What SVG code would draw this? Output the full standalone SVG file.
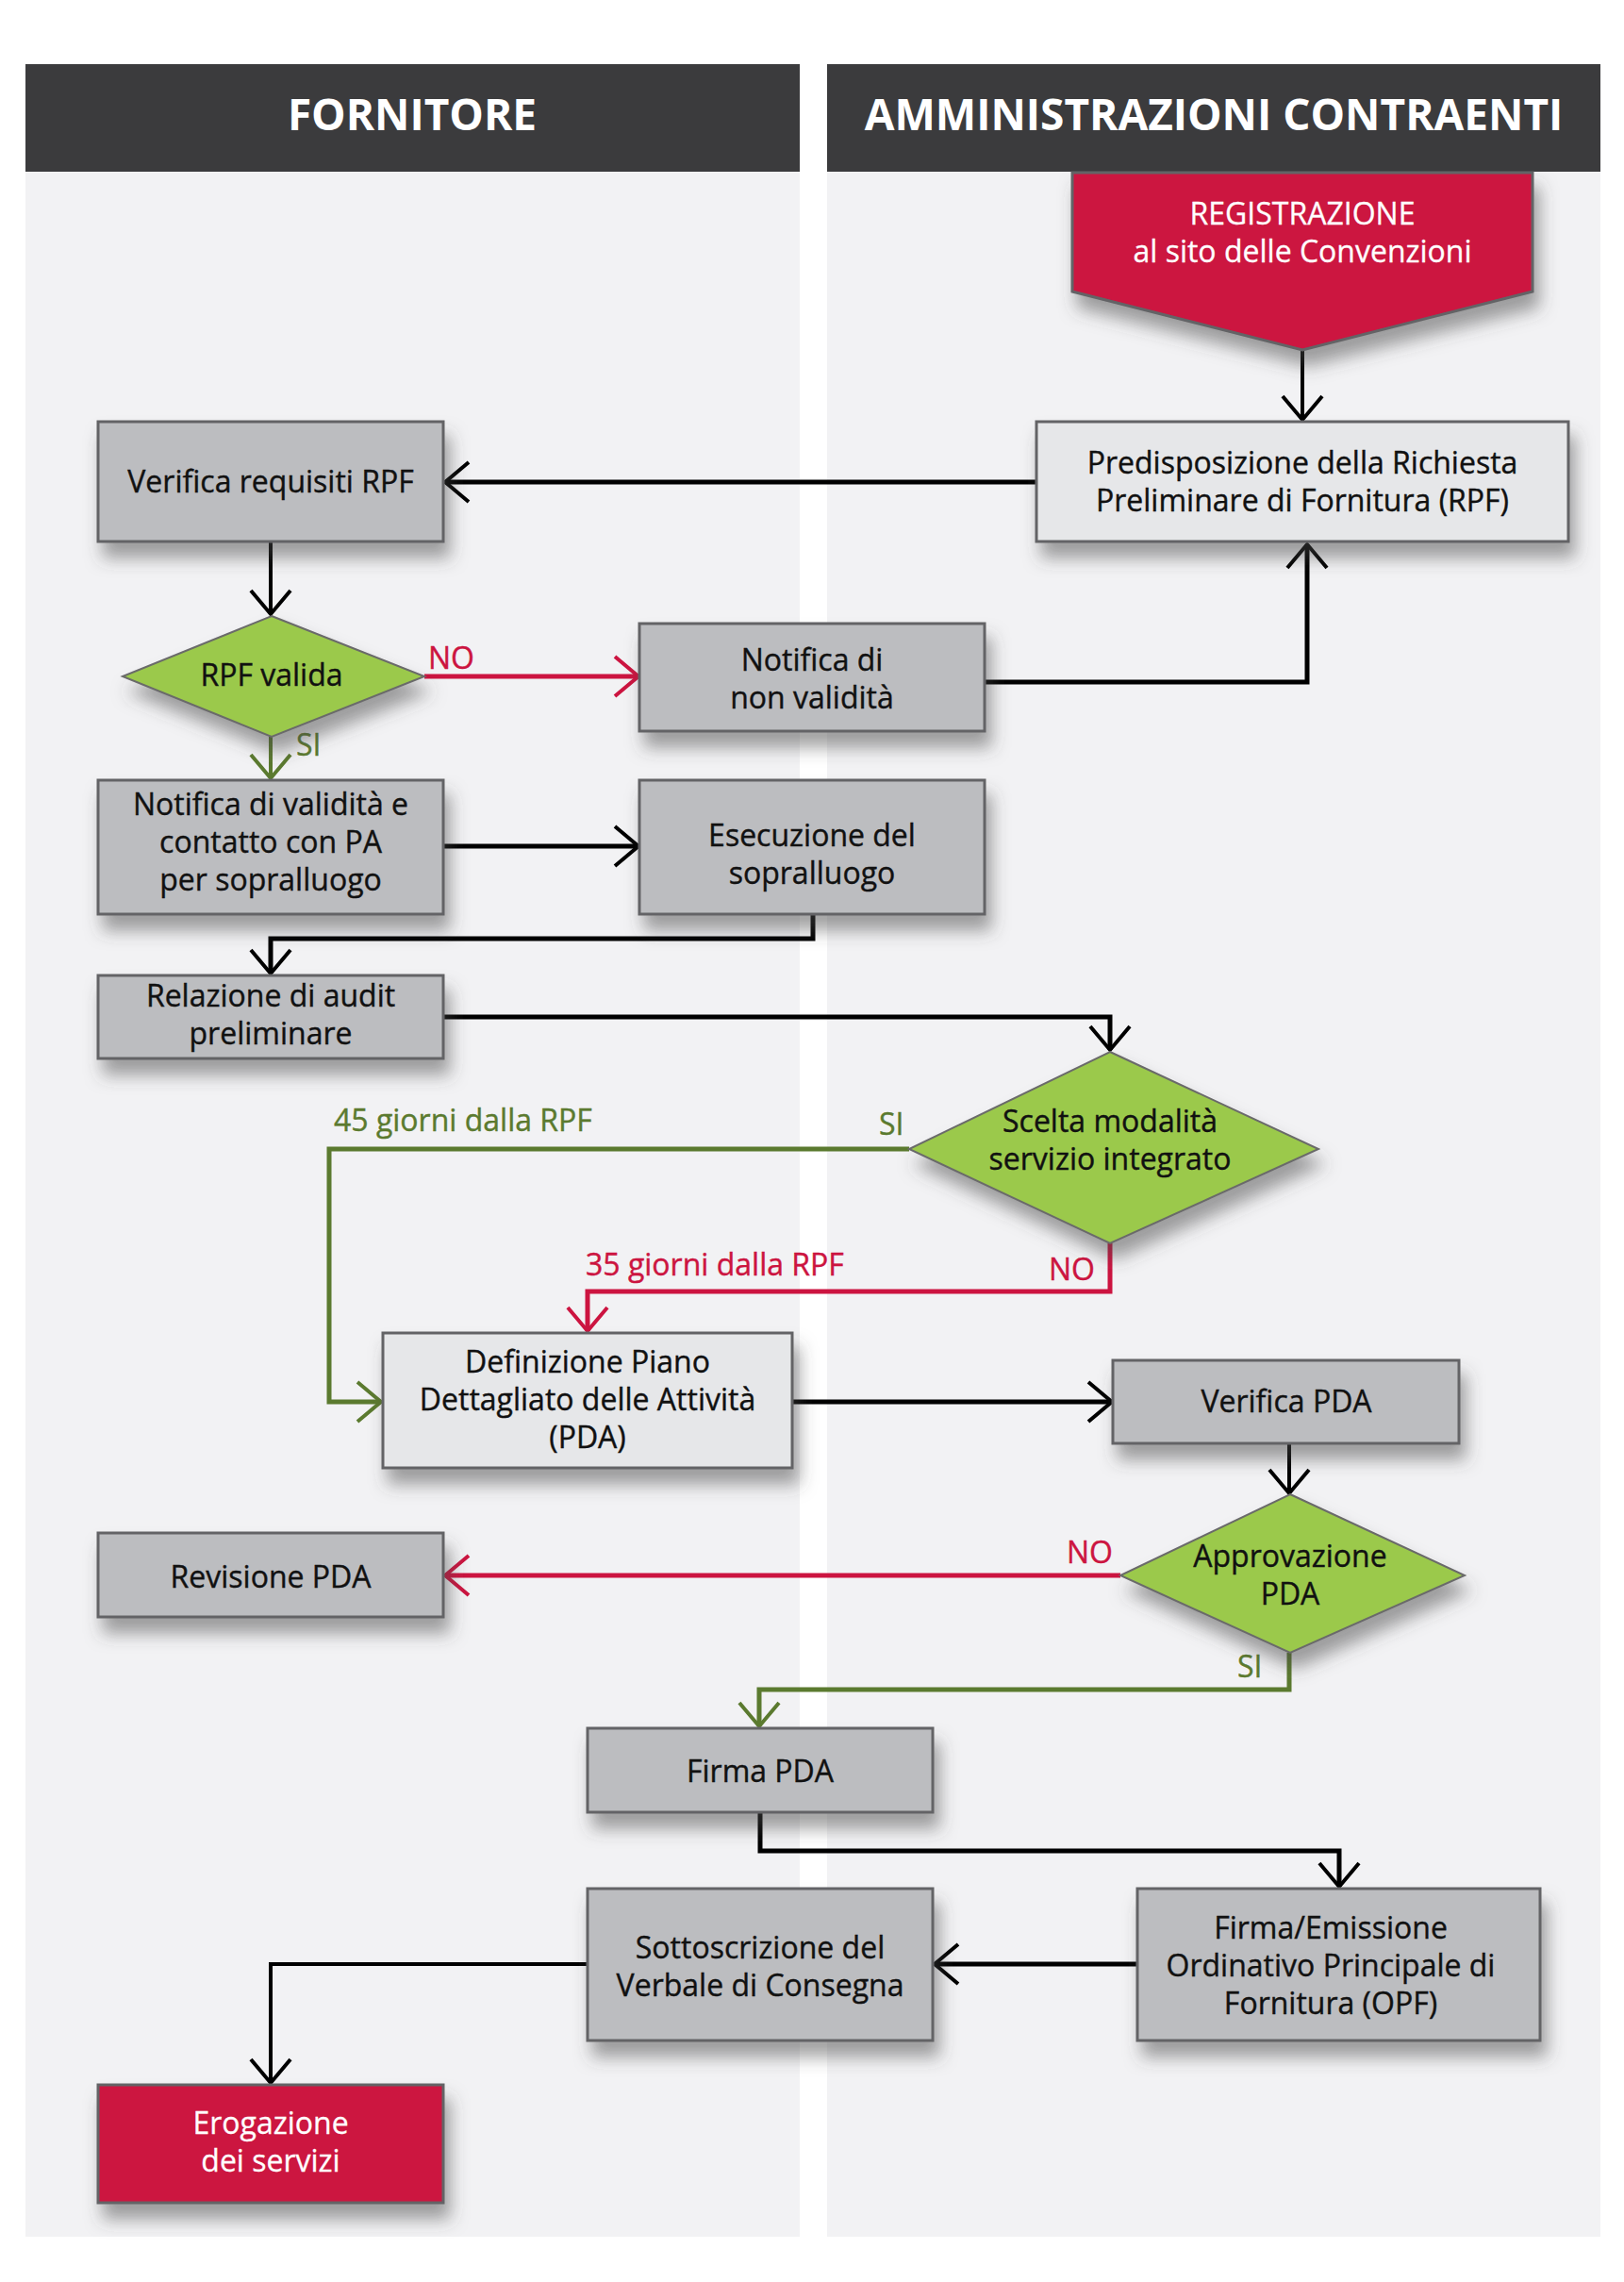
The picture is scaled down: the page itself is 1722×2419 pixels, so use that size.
<svg xmlns="http://www.w3.org/2000/svg" width="1722" height="2419" viewBox="0 0 1722 2419">
<style>
.lane{fill:#f2f2f4}
.hdr{fill:#3b3b3d}
.ht{font-family:"Open Sans","DejaVu Sans",sans-serif;font-weight:bold;font-size:46px;fill:#fff;text-anchor:middle}
.t{font-family:"Open Sans","DejaVu Sans",sans-serif;font-size:32px;fill:#111;stroke:#111;stroke-width:0.4;text-anchor:middle}
.tw{font-family:"Open Sans","DejaVu Sans",sans-serif;font-size:32px;fill:#fff;stroke:#fff;stroke-width:0.3;text-anchor:middle}
.lg{font-family:"Open Sans","DejaVu Sans",sans-serif;font-size:32px;fill:#5b7a2f;stroke:#5b7a2f;stroke-width:0.4}
.lr{font-family:"Open Sans","DejaVu Sans",sans-serif;font-size:32px;fill:#cc1440;stroke:#cc1440;stroke-width:0.4}
.bx{fill:#bcbdc0;stroke:#646466;stroke-width:3}
.bl{fill:#e6e7e9;stroke:#646466;stroke-width:3}
.br{fill:#cc1440;stroke:#646466;stroke-width:3}
.dm{fill:#9bc94c;stroke:#6a6a6a;stroke-width:2}
.ck{fill:none;stroke:#000;stroke-width:5}
.cg{fill:none;stroke:#5b7a2f;stroke-width:5}
.cr{fill:none;stroke:#cc1440;stroke-width:5}
</style>
<defs>
<filter id="sh" x="-20%" y="-20%" width="150%" height="170%">
<feDropShadow dx="6" dy="16" stdDeviation="9" flood-color="#444" flood-opacity="0.5"/>
</filter>
<marker id="ak" markerUnits="userSpaceOnUse" orient="auto" overflow="visible" markerWidth="1" markerHeight="1"><path d="M-25,-21 L0,0 L-25,21" fill="none" stroke="#000" stroke-width="4"/></marker>
<marker id="ag" markerUnits="userSpaceOnUse" orient="auto" overflow="visible" markerWidth="1" markerHeight="1"><path d="M-25,-21 L0,0 L-25,21" fill="none" stroke="#5b7a2f" stroke-width="4"/></marker>
<marker id="ar" markerUnits="userSpaceOnUse" orient="auto" overflow="visible" markerWidth="1" markerHeight="1"><path d="M-25,-21 L0,0 L-25,21" fill="none" stroke="#cc1440" stroke-width="4"/></marker>
</defs>
<rect width="1722" height="2419" fill="#fff"/>
<g id="lanes">
<rect class="lane" x="27" y="182" width="821" height="2189"/>
<rect class="lane" x="877" y="182" width="820" height="2189"/>
<rect class="hdr" x="27" y="68" width="821" height="114"/>
<rect class="hdr" x="877" y="68" width="820" height="114"/>
<text class="ht" x="437" y="138">FORNITORE</text>
<text class="ht" x="1287" y="138">AMMINISTRAZIONI CONTRAENTI</text>
</g>
<g id="connectors">
<path class="ck" d="M1381,371 V445" style="stroke-width:4" marker-end="url(#ak)"/>
<path class="ck" d="M1099,511 H472" marker-end="url(#ak)"/>
<path class="ck" d="M287,574 V651" style="stroke-width:4" marker-end="url(#ak)"/>
<path class="cr" d="M450,717 H677" marker-end="url(#ar)"/>
<path class="ck" d="M1044,723 H1386 V577" marker-end="url(#ak)"/>
<path class="cg" d="M287,781 V825" style="stroke-width:4" marker-end="url(#ag)"/>
<path class="ck" d="M470,897 H677" marker-end="url(#ak)"/>
<path class="ck" d="M862,969 V995 H287 V1032" marker-end="url(#ak)"/>
<path class="ck" d="M470,1078 H1177 V1113" marker-end="url(#ak)"/>
<path class="cg" d="M964,1218 H349 V1486 H404" marker-end="url(#ag)"/>
<path class="cr" d="M1177,1318 V1369 H623 V1411" marker-end="url(#ar)"/>
<path class="ck" d="M840,1486 H1179" marker-end="url(#ak)"/>
<path class="ck" d="M1367,1530 V1583" style="stroke-width:4" marker-end="url(#ak)"/>
<path class="cr" d="M1188,1670 H472" marker-end="url(#ar)"/>
<path class="cg" d="M1367,1752 V1791 H805 V1830" marker-end="url(#ag)"/>
<path class="ck" d="M806,1921 V1962 H1420 V2000" marker-end="url(#ak)"/>
<path class="ck" d="M1205,2082 H991" marker-end="url(#ak)"/>
<path class="ck" d="M622,2082 H287 V2208" style="stroke-width:4" marker-end="url(#ak)"/>
</g>
<g id="labels">
<text class="lr" x="454" y="709">NO</text>
<text class="lg" x="314" y="801">SI</text>
<text class="lg" x="354" y="1199">45 giorni dalla RPF</text>
<text class="lg" x="932" y="1203">SI</text>
<text class="lr" x="1112" y="1357">NO</text>
<text class="lr" x="621" y="1352">35 giorni dalla RPF</text>
<text class="lr" x="1131" y="1657">NO</text>
<text class="lg" x="1312" y="1778">SI</text>
</g>
<g id="registrazione">
<polygon class="br" points="1137,183 1625,183 1625,309 1381,371 1137,309" filter="url(#sh)"/>
<text class="tw" x="1381" y="238">REGISTRAZIONE</text>
<text class="tw" x="1381" y="278">al sito delle Convenzioni</text>
</g>
<g id="predisposizione">
<rect class="bl" x="1099" y="447" width="564" height="127" filter="url(#sh)"/>
<text class="t" x="1381" y="502">Predisposizione della Richiesta</text>
<text class="t" x="1381" y="542">Preliminare di Fornitura (RPF)</text>
</g>
<g id="verifica-rpf">
<rect class="bx" x="104" y="447" width="366" height="127" filter="url(#sh)"/>
<text class="t" x="287" y="522">Verifica requisiti RPF</text>
</g>
<g id="rpf-valida">
<polygon class="dm" points="288,653 450,717 288,781 130,717" filter="url(#sh)"/>
<text class="t" x="288" y="727">RPF valida</text>
</g>
<g id="notifica-non-validita">
<rect class="bx" x="678" y="661" width="366" height="114" filter="url(#sh)"/>
<text class="t" x="861" y="711">Notifica di</text>
<text class="t" x="861" y="751">non validità</text>
</g>
<g id="notifica-validita">
<rect class="bx" x="104" y="827" width="366" height="142" filter="url(#sh)"/>
<text class="t" x="287" y="864">Notifica di validità e</text>
<text class="t" x="287" y="904">contatto con PA</text>
<text class="t" x="287" y="944">per sopralluogo</text>
</g>
<g id="esecuzione">
<rect class="bx" x="678" y="827" width="366" height="142" filter="url(#sh)"/>
<text class="t" x="861" y="897">Esecuzione del</text>
<text class="t" x="861" y="937">sopralluogo</text>
</g>
<g id="relazione">
<rect class="bx" x="104" y="1034" width="366" height="88" filter="url(#sh)"/>
<text class="t" x="287" y="1067">Relazione di audit</text>
<text class="t" x="287" y="1107">preliminare</text>
</g>
<g id="scelta">
<polygon class="dm" points="1177,1115 1398,1218 1177,1318 964,1218" filter="url(#sh)"/>
<text class="t" x="1177" y="1200">Scelta modalità</text>
<text class="t" x="1177" y="1240">servizio integrato</text>
</g>
<g id="definizione">
<rect class="bl" x="406" y="1413" width="434" height="143" filter="url(#sh)"/>
<text class="t" x="623" y="1455">Definizione Piano</text>
<text class="t" x="623" y="1495">Dettagliato delle Attività</text>
<text class="t" x="623" y="1535">(PDA)</text>
</g>
<g id="verifica-pda">
<rect class="bx" x="1180" y="1442" width="367" height="88" filter="url(#sh)"/>
<text class="t" x="1364" y="1497">Verifica PDA</text>
</g>
<g id="approvazione">
<polygon class="dm" points="1368,1584 1553,1670 1368,1752 1188,1670" filter="url(#sh)"/>
<text class="t" x="1368" y="1661">Approvazione</text>
<text class="t" x="1368" y="1701">PDA</text>
</g>
<g id="revisione">
<rect class="bx" x="104" y="1625" width="366" height="89" filter="url(#sh)"/>
<text class="t" x="287" y="1683">Revisione PDA</text>
</g>
<g id="firma-pda">
<rect class="bx" x="623" y="1832" width="366" height="89" filter="url(#sh)"/>
<text class="t" x="806" y="1889">Firma PDA</text>
</g>
<g id="firma-emissione">
<rect class="bx" x="1206" y="2002" width="427" height="161" filter="url(#sh)"/>
<text class="t" x="1411" y="2055">Firma/Emissione</text>
<text class="t" x="1411" y="2095">Ordinativo Principale di</text>
<text class="t" x="1411" y="2135">Fornitura (OPF)</text>
</g>
<g id="sottoscrizione">
<rect class="bx" x="623" y="2002" width="366" height="161" filter="url(#sh)"/>
<text class="t" x="806" y="2076">Sottoscrizione del</text>
<text class="t" x="806" y="2116">Verbale di Consegna</text>
</g>
<g id="erogazione">
<rect class="br" x="104" y="2210" width="366" height="125" filter="url(#sh)"/>
<text class="tw" x="287" y="2262">Erogazione</text>
<text class="tw" x="287" y="2302">dei servizi</text>
</g>
</svg>
